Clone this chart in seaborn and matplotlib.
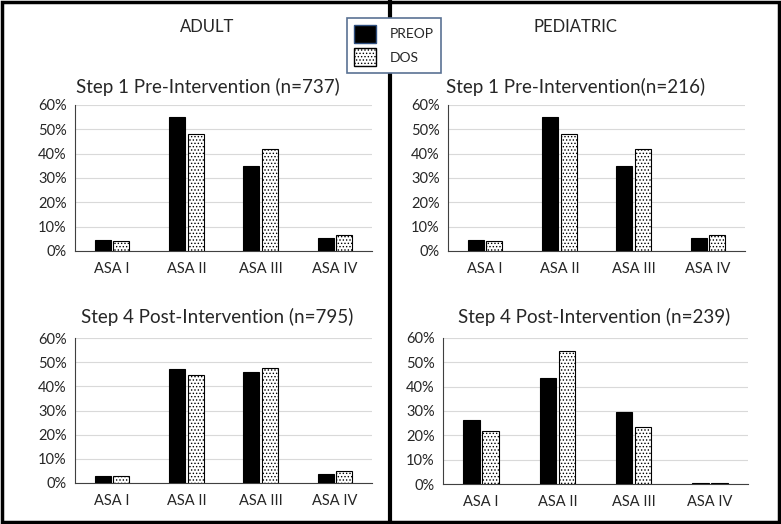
import matplotlib
matplotlib.use('Agg')
import matplotlib.pyplot as plt
import seaborn as sns
import pandas as pd
from matplotlib.patches import Patch, Rectangle
from matplotlib.lines import Line2D
from matplotlib.ticker import PercentFormatter, MultipleLocator

# Data (fractions)
categories = ['ASA I', 'ASA II', 'ASA III', 'ASA IV']
groups = ['PREOP', 'DOS']

adult_pre_preop = [0.045, 0.549, 0.349, 0.052]
adult_pre_dos = [0.041, 0.479, 0.418, 0.064]
adult_post_preop = [0.027, 0.471, 0.461, 0.038]
adult_post_dos = [0.030, 0.446, 0.475, 0.051]

ped_pre_preop = [0.045, 0.549, 0.349, 0.052]
ped_pre_dos = [0.041, 0.479, 0.418, 0.064]
ped_post_preop = [0.263, 0.436, 0.296, 0.004]
ped_post_dos = [0.218, 0.547, 0.236, 0.005]

titles = ['Step 1 Pre-Intervention (n=737)', 'Step 1 Pre-Intervention(n=216)',
          'Step 4 Post-Intervention (n=795)', 'Step 4 Post-Intervention (n=239)']

sns.set_style('white')
plt.rcParams['font.family'] = ['Lato', 'DejaVu Sans']
plt.rcParams['hatch.linewidth'] = 0.6

W, H = 781, 524
fig = plt.figure(figsize=(W / 100, H / 100), dpi=100)


def px_axes(x0, y0, x1, y1):
    return fig.add_axes([x0 / W, 1 - y1 / H, (x1 - x0) / W, (y1 - y0) / H])


def draw_panel(ax, preop, dos):
    df = pd.DataFrame({
        'cat': categories * 2,
        'grp': ['PREOP'] * 4 + ['DOS'] * 4,
        'val': preop + dos,
    })
    sns.barplot(data=df, x='cat', y='val', hue='grp', hue_order=groups,
                palette={'PREOP': 'black', 'DOS': 'white'}, width=0.5, gap=0.14,
                edgecolor='black', linewidth=0.8, legend=False, ax=ax, zorder=3)
    for bar in ax.containers[1]:
        bar.set_hatch('.....')
        bar.set_edgecolor('black')
    ax.set_ylim(0, 0.6)
    ax.set_xlim(-0.5, 3.5)
    ax.yaxis.set_major_locator(MultipleLocator(0.1))
    ax.yaxis.set_major_formatter(PercentFormatter(1.0, decimals=0))
    ax.grid(axis='y', color='#d9d9d9', linewidth=0.8, zorder=0)
    ax.set_axisbelow(True)
    ax.set_xlabel('')
    ax.set_ylabel('')
    for s in ['top', 'right']:
        ax.spines[s].set_visible(False)
    ax.spines['left'].set_color('#404040')
    ax.spines['bottom'].set_color('#404040')
    ax.spines['left'].set_linewidth(0.8)
    ax.spines['bottom'].set_linewidth(0.8)
    ax.tick_params(axis='y', length=0, pad=6, labelsize=10.5)
    ax.tick_params(axis='x', length=0, pad=8, labelsize=10.5)


panels = [
    ((75, 105, 372, 251), adult_pre_preop, adult_pre_dos, (208, 87)),
    ((448, 105, 745, 251), ped_pre_preop, ped_pre_dos, (576, 87)),
    ((75, 338, 372, 483), adult_post_preop, adult_post_dos, (217, 317)),
    ((443, 338, 748, 484), ped_post_preop, ped_post_dos, (594, 317)),
]

for (rect, pre, dos, tpos), title in zip(panels, titles):
    ax = px_axes(*rect)
    draw_panel(ax, pre, dos)
    fig.text(tpos[0] / W, 1 - tpos[1] / H, title, ha='center', va='center', fontsize=13.5)

# Section headers
fig.text(207 / W, 1 - 27 / H, 'ADULT', ha='center', va='center', fontsize=12)
fig.text(575 / W, 1 - 27 / H, 'PEDIATRIC', ha='center', va='center', fontsize=12)

# Outer border and divider
fig.add_artist(Rectangle((0.002, 0.003), 0.996, 0.994, transform=fig.transFigure,
                         fill=False, edgecolor='black', linewidth=2.5))
fig.add_artist(Line2D([390 / W, 390 / W], [0, 1], transform=fig.transFigure,
                      color='black', linewidth=3))

# Legend
handles = [Patch(facecolor='black', edgecolor='#2f4f7f', label='PREOP'),
           Patch(facecolor='white', edgecolor='black', hatch='.....', label='DOS')]
leg = fig.legend(handles=handles, loc='center', bbox_to_anchor=(394 / W, 1 - 45.5 / H),
                 frameon=True, fancybox=False, fontsize=10, handlelength=1.6,
                 handleheight=1.6, handletextpad=1.0, borderpad=0.5, labelspacing=0.4)
leg.get_frame().set_edgecolor('#5a7294')
leg.get_frame().set_linewidth(1.2)
leg.get_frame().set_alpha(1)
leg.set_zorder(10)

fig.savefig('out.png', dpi=100)
